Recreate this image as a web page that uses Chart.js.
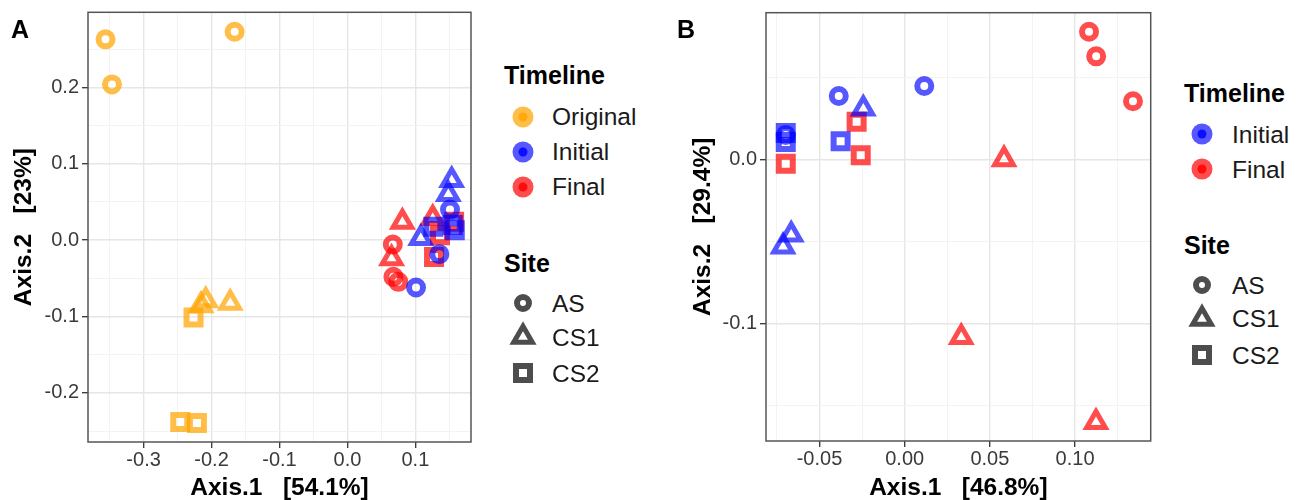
<!DOCTYPE html>
<html><head><meta charset="utf-8">
<script src="https://cdn.jsdelivr.net/npm/chart.js@4.4.1/dist/chart.umd.min.js"></script>
<style>
html,body{margin:0;padding:0;background:#fff;overflow:hidden;width:1302px;height:500px;}
body{position:relative;font-family:"Liberation Sans",Arial,Helvetica,sans-serif;}
canvas{position:absolute;top:0;}
.t{position:absolute;white-space:pre;color:#1a1a1a;}
svg{position:absolute;overflow:visible;}
</style></head><body>
<canvas id="chartA" width="490" height="500" style="left:0px"></canvas>
<canvas id="chartB" width="500" height="500" style="left:660px"></canvas>
<div id="overlay"></div>
<script>
// ---------------- DATA ----------------
const sites = ['AS', 'CS1', 'CS2'];
const timelineA = ['Original', 'Initial', 'Final'];
const timelineB = ['Initial', 'Final'];

// Panel A  (Axis.1 54.1%, Axis.2 23%)
const A_Original_AS  = [[-0.356, 0.263], [-0.3465, 0.204], [-0.166, 0.273]];
const A_Original_CS1 = [[-0.2155, -0.0855], [-0.2085, -0.079], [-0.1725, -0.0823]];
const A_Original_CS2 = [[-0.2265, -0.1013], [-0.246, -0.238], [-0.2215, -0.2394]];
const A_Initial_AS   = [[0.151, 0.040], [0.1353, -0.0183], [0.101, -0.062]];
const A_Initial_CS1  = [[0.1535, 0.0786], [0.1485, 0.0603], [0.108, 0.0026]];
const A_Initial_CS2  = [[0.1265, 0.0175], [0.158, 0.013], [0.155, 0.020]];
const A_Final_AS     = [[0.0668, -0.0057], [0.0677, -0.048], [0.075, -0.0546]];
const A_Final_CS1    = [[0.0809, 0.024], [0.1256, 0.0288], [0.065, -0.024]];
const A_Final_CS2    = [[0.1363, 0.0066], [0.1275, -0.0219], [0.157, 0.024]];

// Panel B  (Axis.1 46.8%, Axis.2 29.4%)
const B_Initial_AS   = [[-0.0387, 0.0386], [0.0115, 0.0447], [-0.0698, 0.0148]];
const B_Initial_CS1  = [[-0.0243, 0.0309], [-0.0666, -0.046], [-0.0714, -0.0532]];
const B_Initial_CS2  = [[-0.0376, 0.011], [-0.0698, 0.016], [-0.0698, 0.0105]];
const B_Final_AS     = [[0.1082, 0.0778], [0.1124, 0.0628], [0.134, 0.0354]];
const B_Final_CS1    = [[0.0583, 0.0], [0.0332, -0.1085], [0.1123, -0.1603]];
const B_Final_CS2    = [[-0.0282, 0.0229], [-0.0258, 0.0024], [-0.0698, -0.0027]];

// Ticks
const A_xMajor = [-0.3, -0.2, -0.1, 0.0, 0.1];
const A_xLabels = ['-0.3', '-0.2', '-0.1', '0.0', '0.1'];
const A_xMinor = [-0.35, -0.25, -0.15, -0.05, 0.05, 0.15];
const A_yMajor = [-0.2, -0.1, 0.0, 0.1, 0.2];
const A_yLabels = ['-0.2', '-0.1', '0.0', '0.1', '0.2'];
const A_yMinor = [-0.25, -0.15, -0.05, 0.05, 0.15, 0.25];
const B_xMajor = [-0.05, 0.0, 0.05, 0.10];
const B_xLabels = ['-0.05', '0.00', '0.05', '0.10'];
const B_xMinor = [-0.075, -0.025, 0.025, 0.075, 0.125];
const B_yMajor = [-0.1, 0.0];
const B_yLabels = ['-0.1', '0.0'];
const B_yMinor = [-0.15, -0.05, 0.05];

const timelineColors = {
  Original: 'rgba(255,165,0,0.72)',
  Initial: 'rgba(0,0,255,0.66)',
  Final: 'rgba(255,0,0,0.7)'
};
const timelineSolid = { Original: '#FFA500', Initial: '#0000FF', Final: '#FF0000' };

// ---------------- BUILD ----------------
const family = '"Liberation Sans", Arial, Helvetica, sans-serif';
const seriesA = {
  Original: { AS: A_Original_AS, CS1: A_Original_CS1, CS2: A_Original_CS2 },
  Initial: { AS: A_Initial_AS, CS1: A_Initial_CS1, CS2: A_Initial_CS2 },
  Final: { AS: A_Final_AS, CS1: A_Final_CS1, CS2: A_Final_CS2 }
};
const seriesB = {
  Initial: { AS: B_Initial_AS, CS1: B_Initial_CS1, CS2: B_Initial_CS2 },
  Final: { AS: B_Final_AS, CS1: B_Final_CS1, CS2: B_Final_CS2 }
};
const shapeStyle = {
  AS: { style: 'circle', r: 7, w: 6 },
  CS1: { style: 'triangle', r: 10.7, w: 5 },
  CS2: { style: 'rect', r: 9.9, w: 6 }
};

const near = (a, b) => Math.abs(a - b) < 1e-9;
const isMajor = (v, majors) => majors.some(m => near(m, v));
function labelFor(v, majors, labels) {
  const i = majors.findIndex(m => near(m, v));
  return i >= 0 ? labels[i] : '';
}

function buildDatasets(series, timelines) {
  const out = [];
  timelines.forEach(t => sites.forEach(s => {
    const st = shapeStyle[s];
    out.push({
      label: t + ' ' + s,
      data: series[t][s].map(p => ({ x: p[0], y: p[1] })),
      pointStyle: st.style,
      pointRadius: st.r,
      pointHoverRadius: st.r,
      pointBorderWidth: st.w,
      pointBorderColor: timelineColors[t],
      pointBackgroundColor: 'rgba(0,0,0,0)',
      borderColor: timelineColors[t],
      backgroundColor: 'rgba(0,0,0,0)',
      showLine: false,
      clip: false
    });
  }));
  return out;
}

function axisCfg(o) {
  const maj = c => c.tick && isMajor(c.tick.value, o.majors);
  return {
    type: 'linear', position: o.position, min: o.min, max: o.max,
    afterBuildTicks: s => { s.ticks = o.majors.concat(o.minors).sort((a, b) => a - b).map(v => ({ value: v })); },
    afterFit: s => { if (o.position === 'bottom') s.height = o.size; else s.width = o.size; },
    border: { display: false },
    grid: {
      color: c => maj(c) ? '#E6E6E6' : '#F2F2F2',
      lineWidth: c => maj(c) ? 1.4 : 0.9,
      drawTicks: true, tickLength: 6, tickWidth: 1.3,
      tickColor: c => maj(c) ? '#333333' : 'rgba(0,0,0,0)'
    },
    ticks: {
      autoSkip: false, maxRotation: 0, minRotation: 0, padding: o.tickPad,
      color: '#3A3A3A', font: { family, size: 20, lineHeight: o.tickLH },
      callback: v => labelFor(v, o.majors, o.labels)
    },
    title: {
      display: true, text: o.title, color: '#000',
      font: { family, size: 24.5, weight: 'bold', lineHeight: 1.0 }, padding: o.titlePad
    }
  };
}

const panelBorder = {
  id: 'panelBorder',
  afterDatasetsDraw(chart) {
    const { ctx, chartArea: a } = chart;
    ctx.save();
    ctx.strokeStyle = '#555555';
    ctx.lineWidth = 1.5;
    ctx.strokeRect(a.left, a.top, a.right - a.left, a.bottom - a.top);
    ctx.restore();
  }
};

function makeChart(id, series, timelines, cfg) {
  return new Chart(document.getElementById(id), {
    type: 'scatter',
    data: { datasets: buildDatasets(series, timelines) },
    options: {
      responsive: false, animation: false, devicePixelRatio: 1, events: [],
      layout: { autoPadding: false, padding: { left: 0, top: cfg.padTop, right: cfg.padRight, bottom: 0 } },
      plugins: { legend: { display: false }, tooltip: { enabled: false } },
      scales: { x: axisCfg(cfg.x), y: axisCfg(cfg.y) }
    },
    plugins: [panelBorder]
  });
}

makeChart('chartA', seriesA, timelineA, {
  padTop: 12.3, padRight: 19,
  x: { position: 'bottom', min: -0.3818, max: 0.1819, majors: A_xMajor, minors: A_xMinor, labels: A_xLabels,
       size: 58, tickPad: 0, tickLH: 1.2, title: 'Axis.1   [54.1%]', titlePad: { top: 0, bottom: 0 } },
  y: { position: 'left', min: -0.2643, max: 0.2984, majors: A_yMajor, minors: A_yMinor, labels: A_yLabels,
       size: 88, tickPad: 3, tickLH: 0.9, title: 'Axis.2   [23%]', titlePad: { top: 12, bottom: 0 } }
});

makeChart('chartB', seriesB, timelineB, {
  padTop: 12.7, padRight: 9.3,
  x: { position: 'bottom', min: -0.0814, max: 0.1444, majors: B_xMajor, minors: B_xMinor, labels: B_xLabels,
       size: 59, tickPad: 0, tickLH: 1.2, title: 'Axis.1   [46.8%]', titlePad: { top: 0, bottom: 0 } },
  y: { position: 'left', min: -0.1718, max: 0.0894, majors: B_yMajor, minors: B_yMinor, labels: B_yLabels,
       size: 106, tickPad: 3, tickLH: 0.9, title: 'Axis.2   [29.4%]', titlePad: { top: 30.75, bottom: 0 } }
});

// ---------------- LEGENDS & PANEL LABELS (HTML text) ----------------
const overlay = document.getElementById('overlay');
const NS = 'http://www.w3.org/2000/svg';
function addText(text, left, cy, size, bold, color) {
  const d = document.createElement('div');
  d.className = 't';
  d.textContent = text;
  d.style.left = left + 'px';
  d.style.top = (cy - size) + 'px';
  d.style.height = (2 * size) + 'px';
  d.style.lineHeight = (2 * size) + 'px';
  d.style.fontSize = size + 'px';
  d.style.fontWeight = bold ? 'bold' : 'normal';
  if (color) d.style.color = color;
  overlay.appendChild(d);
}
function addSvg(cx, cy, build) {
  const s = document.createElementNS(NS, 'svg');
  s.setAttribute('width', 40); s.setAttribute('height', 40);
  s.style.left = (cx - 20) + 'px'; s.style.top = (cy - 20) + 'px';
  build(s);
  overlay.appendChild(s);
}
function el(name, attrs) {
  const e = document.createElementNS(NS, name);
  for (const k in attrs) e.setAttribute(k, attrs[k]);
  return e;
}
function colorKey(cx, cy, t) {
  addSvg(cx, cy, s => {
    s.appendChild(el('circle', { cx: 20, cy: 20, r: 10.5, fill: timelineColors[t] }));
    s.appendChild(el('circle', { cx: 20, cy: 20, r: 4.5, fill: timelineSolid[t], opacity: 0.85 }));
  });
}
function shapeKey(cx, cy, site) {
  const g = '#4D4D4D';
  addSvg(cx, cy, s => {
    if (site === 'AS') {
      s.appendChild(el('circle', { cx: 20, cy: 20, r: 6, fill: 'none', stroke: g, 'stroke-width': 6 }));
    } else if (site === 'CS1') {
      const r = 10.7;
      const pts = [[20, 20 - r], [20 + r * 0.866, 20 + r / 2], [20 - r * 0.866, 20 + r / 2]].map(p => p.join(',')).join(' ');
      s.appendChild(el('polygon', { points: pts, fill: 'none', stroke: g, 'stroke-width': 5, 'stroke-linejoin': 'miter', 'stroke-miterlimit': 10 }));
    } else {
      s.appendChild(el('rect', { x: 13, y: 13, width: 14, height: 14, fill: 'none', stroke: g, 'stroke-width': 6 }));
    }
  });
}
function legend(timelines, L) {
  addText('Timeline', L.titleX, L.tY, 25, true, '#000');
  timelines.forEach((t, i) => {
    colorKey(L.keyX, L.tItems[i], t);
    addText(t, L.textX, L.tItems[i], 24.5, false);
  });
  addText('Site', L.titleX, L.sY, 25, true, '#000');
  sites.forEach((s, i) => {
    shapeKey(L.keyX, L.sItems[i], s);
    addText(s, L.textX, L.sItems[i], 24.5, false);
  });
}
legend(timelineA, { titleX: 504, tY: 75, tItems: [116.7, 151.7, 186.7], sY: 263, sItems: [303.3, 337, 373.3], keyX: 522.5, textX: 552 });
legend(timelineB, { titleX: 1184, tY: 93.3, tItems: [134, 169.3], sY: 245, sItems: [285, 318.5, 355], keyX: 1201.7, textX: 1232 });

addText('A', 11, 29, 25, true, '#000');
addText('B', 677, 28.5, 25, true, '#000');
</script>
</body></html>
